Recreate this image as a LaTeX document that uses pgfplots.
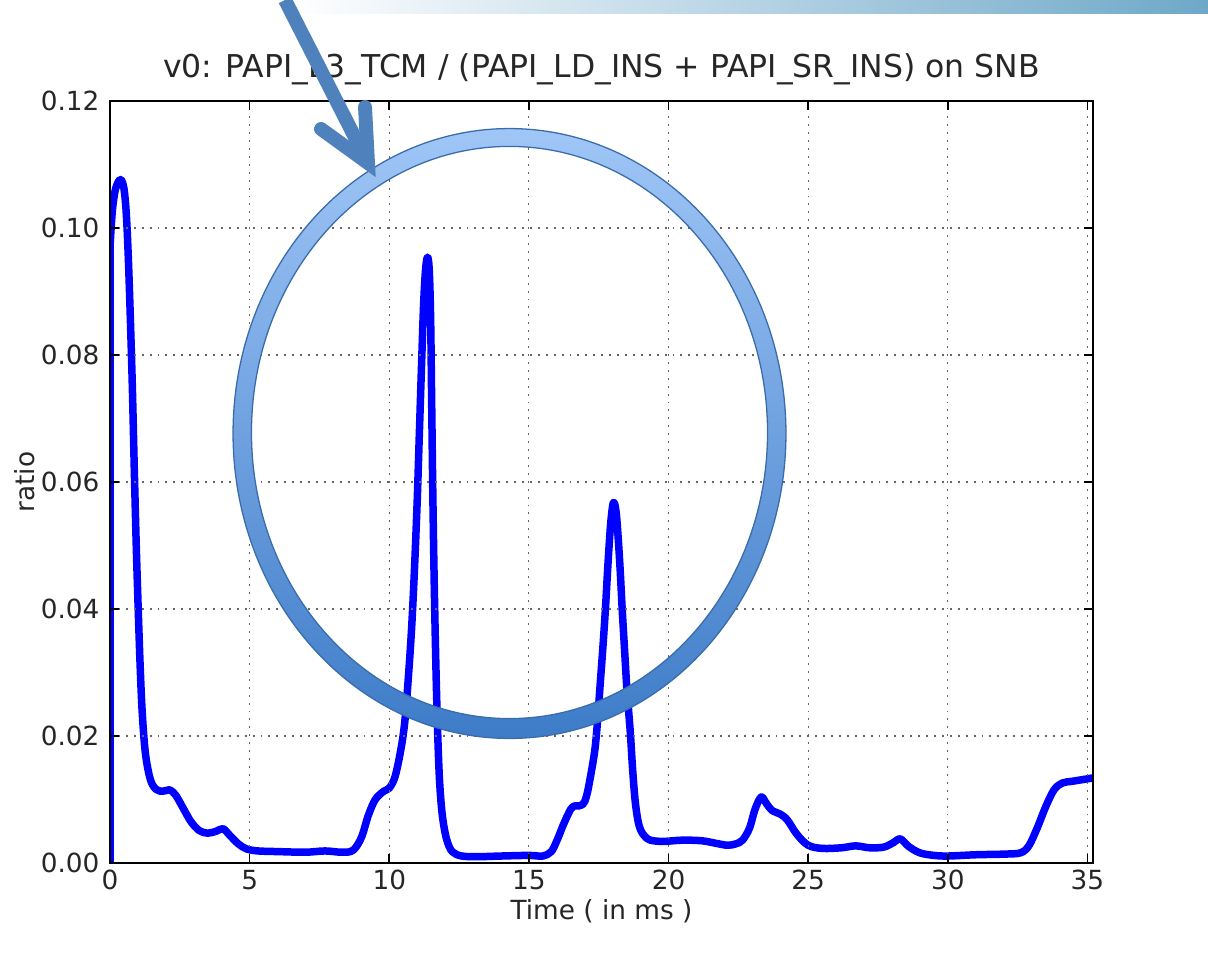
\documentclass[border=0pt]{standalone}
\usepackage{fontspec}
\setmainfont{DejaVu Sans}
\usepackage{pgfplots}
\pgfplotsset{compat=1.18}
\definecolor{ringtop}{RGB}{160,198,247}
\definecolor{ringbot}{RGB}{62,124,200}
\definecolor{ringline}{RGB}{58,108,170}
\definecolor{arrowc}{RGB}{79,129,189}
\definecolor{barR}{RGB}{110,168,201}
\begin{document}
\begin{tikzpicture}
\begin{axis}[
  at={(0,0)}, anchor=south west, scale only axis,
  width=459.06pt, height=355.85pt,
  xmin=0, xmax=35.2, ymin=0, ymax=0.12,
  xtick={0,5,10,15,20,25,30,35},
  xticklabels={0,5,10,15,20,25,30,35},
  ytick={0,0.02,0.04,0.06,0.08,0.10,0.12},
  yticklabels={0.00,0.02,0.04,0.06,0.08,0.10,0.12},
  tick label style={font=\fontsize{12.3}{14}\selectfont, text=black!85},
  xticklabel style={anchor=base, inner sep=0pt, yshift=-12.6pt},
  yticklabel style={anchor=east, inner sep=0pt, xshift=-4.7pt},
  major tick length=4.2pt,
  tick style={black, line width=0.8pt},
  axis line style={black, line width=1pt},
  grid=major,
  grid style={black!60, line width=0.5pt, dash pattern=on 0.9pt off 2.8pt},
  axis on top,
  title={v0: PAPI\_L3\_TCM / (PAPI\_LD\_INS + PAPI\_SR\_INS) on SNB},
  title style={font=\fontsize{14.7}{17}\selectfont, text=black!85, at={(axis description cs:0.5,1)}, anchor=base, yshift=4.9pt, inner sep=0pt},
  xlabel={Time ( in ms )},
  xlabel style={font=\fontsize{12.3}{14}\selectfont, text=black!85, at={(axis description cs:0.5,0)}, anchor=center, yshift=-22.4pt, inner sep=0pt},
  ylabel={ratio},
  ylabel style={font=\fontsize{12.3}{14}\selectfont, text=black!85, at={(axis description cs:-0.0865,0.5)}, anchor=center, inner sep=0pt},
]
\addplot[color=blue, line width=3.5pt] coordinates {(0,0) (0,0.0975)};
\addplot[color=blue, line width=3.5pt, smooth, tension=0.55, line join=round] coordinates {
(0,0.0970) (0.08,0.1025) (0.18,0.1058) (0.3,0.1073) (0.4,0.1076) (0.5,0.1062)
(0.58,0.1025) (0.65,0.096) (0.72,0.087) (0.8,0.075) (0.87,0.062) (0.94,0.050)
(1.01,0.040) (1.08,0.031) (1.15,0.024) (1.25,0.018) (1.37,0.0145) (1.5,0.0125)
(1.65,0.0116) (1.8,0.0113) (2.0,0.0114) (2.15,0.0115)
(2.35,0.0107) (2.6,0.0088) (2.9,0.0065) (3.2,0.0051) (3.5,0.0047) (3.8,0.0050)
(4.05,0.0054) (4.3,0.0043) (4.6,0.0030) (4.9,0.0022) (5.3,0.0019) (6.0,0.0018)
(7.0,0.0017) (7.7,0.0019) (8.3,0.0017) (8.7,0.0020) (9.0,0.0040) (9.25,0.0075)
(9.5,0.0100) (9.8,0.0113) (10.0,0.0118) (10.2,0.0135) (10.4,0.0175) (10.55,0.022)
(10.68,0.029) (10.8,0.037) (10.9,0.046) (11.0,0.057) (11.08,0.068) (11.16,0.079)
(11.23,0.088) (11.3,0.0935) (11.37,0.0954) (11.43,0.0935) (11.48,0.086) (11.52,0.072)
(11.56,0.058) (11.61,0.044) (11.67,0.031) (11.73,0.021) (11.8,0.013) (11.9,0.0075)
(12.05,0.0038) (12.25,0.0018) (12.6,0.0011) (13.2,0.0010) (14.0,0.0011)
(15.0,0.0012) (15.5,0.0011) (15.8,0.0018) (16.0,0.0035) (16.25,0.0062) (16.5,0.0085)
(16.65,0.0090) (16.8,0.0090) (16.92,0.0092) (17.0,0.0097) (17.1,0.0112) (17.2,0.0135)
(17.3,0.0160) (17.38,0.0185) (17.46,0.0225) (17.55,0.028) (17.65,0.034) (17.74,0.040) (17.83,0.047)
(17.92,0.053) (18.0,0.0563) (18.06,0.0567) (18.13,0.055) (18.2,0.051) (18.27,0.046)
(18.34,0.040) (18.42,0.034) (18.5,0.028) (18.57,0.024) (18.64,0.020) (18.71,0.015)
(18.8,0.010) (18.9,0.0068) (19.0,0.0052) (19.15,0.0042) (19.35,0.0036) (19.8,0.0034)
(20.5,0.0036) (21.2,0.0035) (21.7,0.0031) (22.1,0.0028) (22.4,0.0030) (22.65,0.0036)
(22.9,0.0055) (23.1,0.0085) (23.32,0.0104) (23.5,0.0094) (23.7,0.0083) (24.0,0.0077)
(24.25,0.0068) (24.6,0.0045) (25.0,0.0028) (25.5,0.0023) (26.2,0.0024) (26.7,0.0027)
(27.2,0.0024) (27.7,0.0025) (28.05,0.0032) (28.3,0.0038) (28.6,0.0026) (29.0,0.0016)
(29.5,0.0012) (30.0,0.0011) (31.0,0.0013) (32.0,0.0014) (32.6,0.0016) (32.9,0.0027)
(33.2,0.0055) (33.5,0.0088) (33.8,0.0115) (34.1,0.0126) (34.5,0.0129) (35.2,0.0134)
};
\end{axis}
\begin{scope}[shift={(-51.37pt,403.02pt)}, x=0.467pt, y=-0.467pt]
\path[use as bounding box] (0,0) rectangle (1208,954);
\shade[left color=white, right color=barR] (290,0) rectangle (1208,14);
\shade[even odd rule, top color=ringtop, bottom color=ringbot]
  (509.5,433.5) ellipse [x radius=129.1pt, y radius=142.4pt]
  (509.5,432.5) ellipse [x radius=120.5pt, y radius=133.6pt];
\draw[ringline, line width=0.6pt] (509.5,433.5) ellipse [x radius=129.1pt, y radius=142.4pt];
\draw[ringline, line width=0.6pt] (509.5,432.5) ellipse [x radius=120.5pt, y radius=133.6pt];
\draw[arrowc, line width=6.5pt] (285,0) -- (366,159);
\draw[arrowc, line width=6.5pt, line cap=round, line join=miter] (321,129) -- (368,163) -- (365,107);
\end{scope}
\end{tikzpicture}
\end{document}
